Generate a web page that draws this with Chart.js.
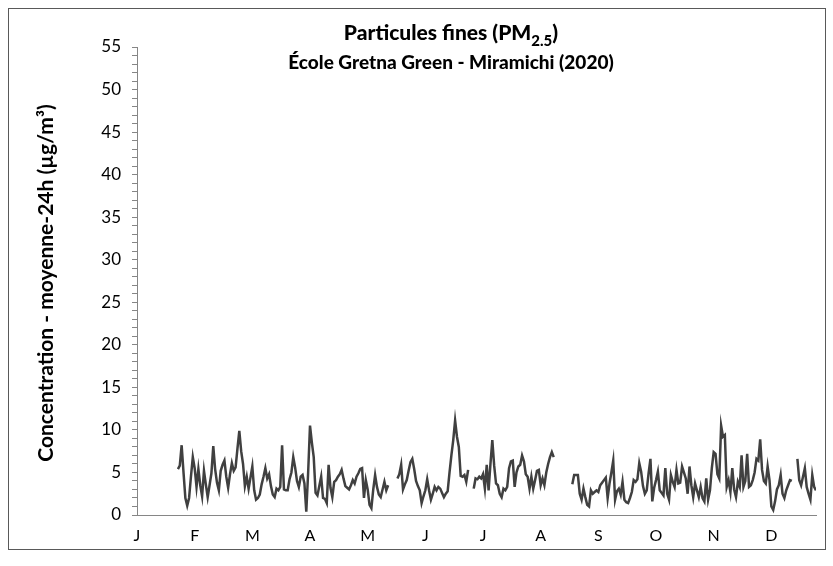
<!DOCTYPE html>
<html lang="fr">
<head>
<meta charset="UTF-8">
<title>Particules fines (PM2.5) - École Gretna Green - Miramichi (2020)</title>
<script src="https://cdn.jsdelivr.net/npm/chart.js"></script>
<style>
    html, body { margin: 0; padding: 0; background: #fff; }
    #wrap { width: 833px; height: 566px; }
</style>
</head>
<body>
<div id="wrap"><canvas id="pm25Chart"></canvas></div>
<script>
// étiquettes des mois (un repère tous les 31 jours)
const monthLabels = ['J', 'F', 'M', 'A', 'M', 'J', 'J', 'A', 'S', 'O', 'N', 'D'];
const monthStep = 31;
const yMax = 55;
const yLabelStep = 5;

// moyenne 24h PM2.5 (µg/m³), jour 0 = 1er janvier 2020, null = pas de donnée
const pm25 = [
    null, null, null, null, null, null, null, null, null, null,   // 0
    null, null, null, null, null, null, null, null, null, null,   // 10
    null, null, 5.4, 5.8, 8.2, 5.0, 2.0, 1.1, 2.0, 4.5,          // 20
    6.8, 5.5, 3.3, 5.4, 3.5, 2.2, 5.2, 3.6, 2.1, 3.5,            // 30
    4.9, 8.1, 5.4, 3.8, 2.9, 5.2, 5.9, 6.4, 4.5, 3.2,            // 40
    4.8, 6.1, 5.2, 5.6, 7.8, 9.9, 7.5, 6.0, 3.4, 4.5,            // 50
    3.1, 4.4, 5.7, 2.9, 1.8, 2.0, 2.4, 3.6, 4.5, 5.5,            // 60
    4.3, 4.8, 3.4, 2.4, 2.1, 3.1, 2.9, 3.3, 8.2, 3.0,            // 70
    2.9, 2.9, 4.2, 5.0, 6.8, 5.6, 4.0, 3.3, 4.5, 4.7,            // 80
    3.7, 0.4, 5.0, 10.5, 8.5, 6.8, 2.6, 2.3, 3.4, 4.5,           // 90
    2.0, 1.9, 1.4, 5.9, 3.2, 2.1, 3.9, 4.1, 4.5, 4.8,            // 100
    5.3, 4.3, 3.4, 3.2, 3.0, 3.5, 4.1, 3.7, 4.5, 4.9,            // 110
    5.4, 5.5, 2.0, 4.1, 3.0, 1.2, 0.8, 3.0, 4.7, 3.3,            // 120
    2.4, 2.1, 3.0, 3.9, 2.9, 3.5, null, null, null, null,        // 130
    4.3, 4.8, 5.9, 3.0, 3.6, 4.1, 5.2, 6.2, 6.6, 5.4,            // 140
    4.0, 3.4, 2.9, 1.4, 2.2, 2.9, 4.2, 2.9, 1.8, 2.5,            // 150
    3.3, 2.9, 3.3, 3.1, 2.6, 2.1, 2.5, 2.8, 5.0, 7.0,            // 160
    8.8, 11.1, 9.2, 8.0, 4.6, 4.5, 4.7, 3.9, 5.3, null,          // 170
    null, 3.1, 4.3, 4.2, 4.5, 4.3, 4.8, 3.1, 5.9, 2.9,           // 180
    6.0, 8.8, 5.8, 3.7, 3.5, 2.5, 2.1, 3.1, 2.9, 3.3,            // 190
    5.5, 6.3, 6.4, 3.3, 5.0, 5.7, 5.9, 7.0, 6.3, 4.8,            // 200
    4.5, 3.1, 4.5, 3.1, 4.1, 5.2, 5.3, 3.5, 4.3, 3.5,            // 210
    5.0, 6.0, 6.8, 7.4, 6.8, null, null, null, null, null,       // 220
    null, null, null, null, 3.6, 4.7, 4.7, 4.7, 2.5, 1.8,        // 230
    3.1, 2.1, 1.2, 1.0, 2.9, 2.5, 2.7, 2.9, 2.7, 3.5,            // 240
    3.8, 4.1, 4.4, 2.0, 3.7, 5.0, 6.4, 1.8, 2.8, 3.1,            // 250
    2.4, 3.9, 1.8, 1.5, 1.4, 2.0, 2.7, 4.1, 3.9, 4.2,            // 260
    6.1, 5.1, 3.4, 2.5, 2.9, 4.9, 6.6, 1.6, 3.2, 4.1,            // 270
    5.1, 2.9, 2.6, 2.3, 5.5, 2.5, 1.8, 4.7, 3.9, 3.3,            // 280
    5.3, 3.7, 3.8, 5.7, 5.0, 4.3, 2.5, 5.7, 3.5, 2.1,            // 290
    3.7, 2.9, 2.1, 3.3, 2.0, 1.6, 4.3, 1.8, 2.9, 5.5,            // 300
    7.4, 7.2, 4.8, 4.3, 10.5, 9.2, 9.4, 3.3, 4.1, 2.7,           // 310
    5.5, 3.0, 2.1, 3.9, 3.3, 7.0, 3.3, 4.0, 7.2, 3.3,            // 320
    3.5, 4.1, 5.0, 6.6, 6.4, 8.9, 5.3, 4.0, 3.7, 5.7,            // 330
    4.1, 1.0, 0.6, 1.6, 3.0, 3.5, 4.7, 2.5, 2.0, 2.9,            // 340
    3.5, 4.1, 4.0, null, null, 6.6, 4.1, 3.5, 4.5, 5.5,          // 350
    3.3, 2.5, 1.8, 4.7, 3.3, 2.9                                 // 360
];

const fontFamily = 'Lato, "Open Sans", sans-serif';

// cadre, titre et titre de l'axe Y
const decorPlugin = {
    id: 'decor',
    beforeDraw(chart) {
        const ctx = chart.ctx;
        ctx.save();
        ctx.fillStyle = '#ffffff';
        ctx.fillRect(0, 0, chart.width, chart.height);
        ctx.strokeStyle = '#595959';
        ctx.lineWidth = 1;
        ctx.strokeRect(8.5, 8.5, 817, 541);
        ctx.restore();
    },
    afterDraw(chart) {
        const ctx = chart.ctx;
        const cx = 451;
        ctx.save();
        ctx.fillStyle = '#000000';
        ctx.textBaseline = 'alphabetic';

        // ligne 1 avec indice
        const big = '900 21px ' + fontFamily;
        const small = '900 15px ' + fontFamily;
        const p1 = 'Particules fines (PM', p2 = '2.5', p3 = ')';
        ctx.font = big;
        const w1 = ctx.measureText(p1).width, w3 = ctx.measureText(p3).width;
        ctx.font = small;
        const w2 = ctx.measureText(p2).width;
        let x = cx - (w1 + w2 + w3) / 2;
        ctx.textAlign = 'left';
        ctx.font = big;
        ctx.fillText(p1, x, 40);
        ctx.font = small;
        ctx.fillText(p2, x + w1, 46);
        ctx.font = big;
        ctx.fillText(p3, x + w1 + w2, 40);

        // ligne 2
        ctx.textAlign = 'center';
        ctx.font = '900 19px ' + fontFamily;
        ctx.fillText('École Gretna Green - Miramichi (2020)', cx, 69);

        // titre axe Y
        ctx.translate(46, 283);
        ctx.rotate(-Math.PI / 2);
        ctx.textBaseline = 'middle';
        ctx.font = 'bold 21px ' + fontFamily;
        ctx.fillText('Concentration - moyenne-24h (µg/m³)', 0, 0);
        ctx.restore();
    }
};

new Chart(document.getElementById('pm25Chart'), {
    type: 'line',
    data: {
        datasets: [{
            data: pm25.map((v, i) => ({ x: i, y: v })),
            borderColor: '#404040',
            borderWidth: 2.5,
            pointRadius: 0,
            tension: 0,
            spanGaps: false
        }]
    },
    options: {
        responsive: true,
        maintainAspectRatio: false,
        animation: false,
        layout: { padding: { top: 47, right: 17, bottom: 0, left: 0 } },
        plugins: {
            legend: { display: false },
            tooltip: { enabled: false }
        },
        scales: {
            x: {
                type: 'linear',
                min: 0,
                max: pm25.length - 1,
                afterFit(scale) { scale.height = 51; },
                grid: { display: false, drawTicks: false },
                border: { display: true, color: '#868686', width: 1 },
                ticks: {
                    stepSize: monthStep,
                    includeBounds: false,
                    autoSkip: false,
                    maxRotation: 0,
                    padding: 11,
                    color: '#000000',
                    font: { family: fontFamily, size: 16 },
                    callback: (v) => monthLabels[Math.round(v / monthStep)] || ''
                }
            },
            y: {
                min: 0,
                max: yMax,
                afterFit(scale) { scale.width = 137; },
                grid: { display: true, drawOnChartArea: false, drawTicks: true, tickLength: 5, color: '#868686' },
                border: { display: true, color: '#868686', width: 1 },
                ticks: {
                    stepSize: 1,
                    autoSkip: false,
                    padding: 11,
                    color: '#000000',
                    font: { family: fontFamily, size: 17 },
                    callback: (v) => (v % yLabelStep === 0 ? v : '')
                }
            }
        }
    },
    plugins: [decorPlugin]
});
</script>
</body>
</html>
